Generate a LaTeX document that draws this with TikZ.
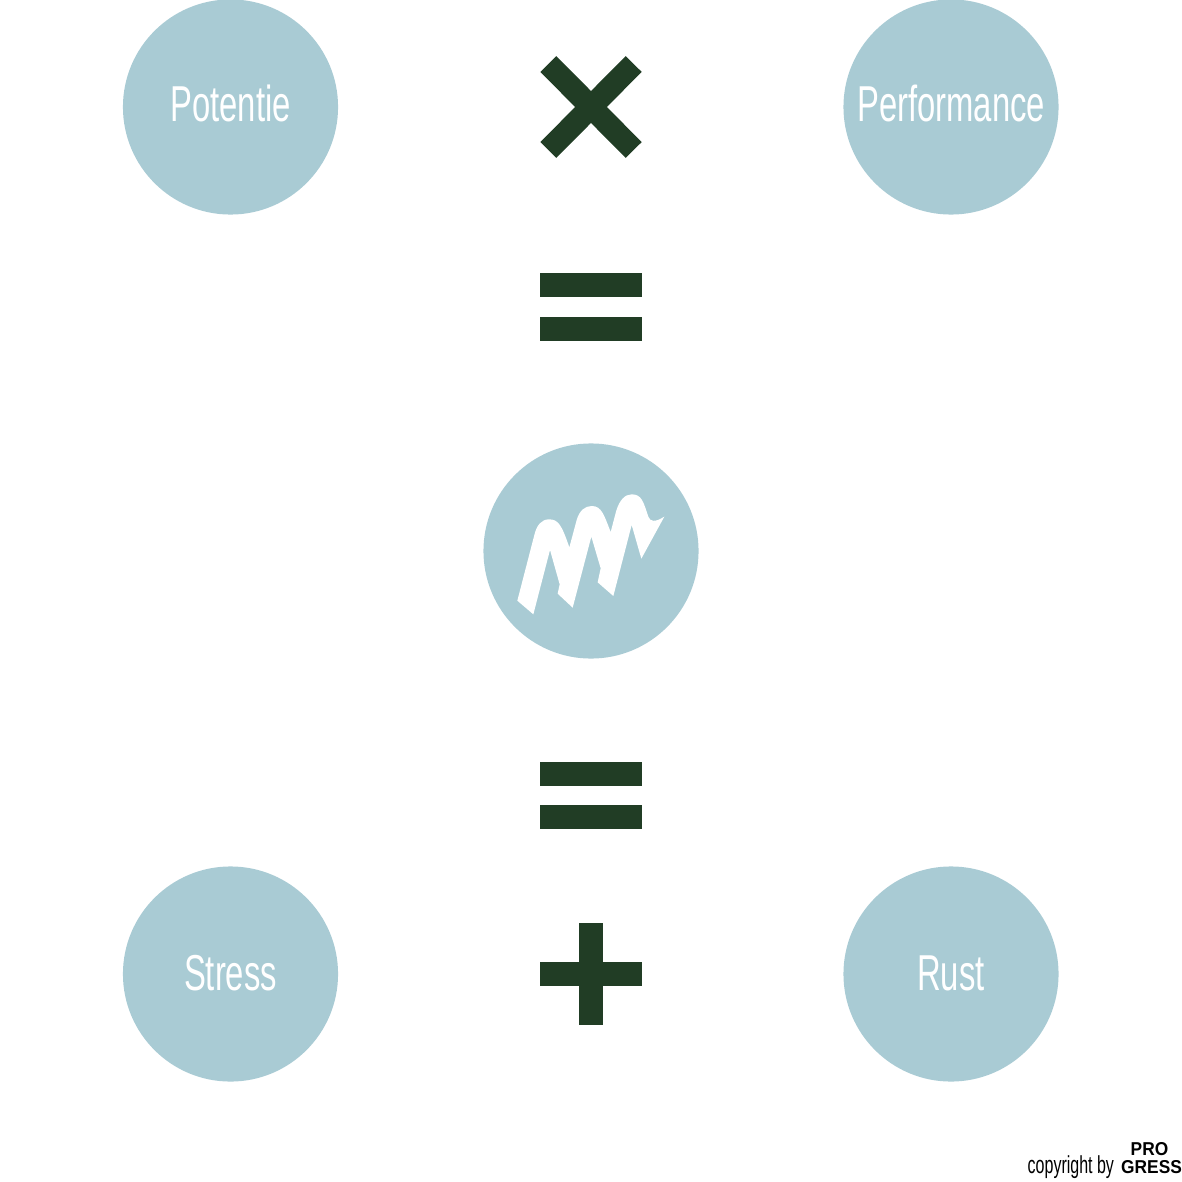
\documentclass[tikz,border=0pt]{standalone}
\usepackage{fontspec}
\setmainfont{Liberation Sans}
\newfontfamily\narrowfont[FakeStretch=0.65]{Liberation Sans}
\newfontfamily\logofont[FakeStretch=0.93]{Liberation Sans}
\usepackage{tikz}
\definecolor{ballblue}{HTML}{A9CBD4}
\definecolor{signgreen}{HTML}{213D25}
\tikzset{
  ball/.style={circle,fill=ballblue,inner sep=0pt,minimum size=2.15cm,text=white,font=\narrowfont\fontsize{14.35}{14.35}\selectfont},
  signbar/.style={fill=signgreen},
  logotext/.style={inner sep=0pt,anchor=base west,font=\logofont\bfseries\fontsize{5.3}{5.3}\selectfont}
}
\begin{document}
\begin{tikzpicture}[x=0.01cm,y=-0.01cm]
                      \useasboundingbox (0,0) rectangle (1182,1182);
                      \node[ball,text depth=0.08cm](potentie)at(230.5,107){Potentie};
                      \node[ball,text depth=0.08cm](performance)at(951,107){Performance};
                      \node[ball,text depth=0.02cm](stress)at(230.5,974){Stress};
                      \node[ball,text depth=0.02cm](rust)at(951,974){Rust};
                      \node[ball](logo)at(591,551){};
                      % times
                      \draw[signgreen,line width=6.4pt] (548.3,64) -- (633.7,150);
                      \draw[signgreen,line width=6.4pt] (633.7,64) -- (548.3,150);
                      % equals
                      \fill[signbar] (540,273) rectangle (642,297);
                      \fill[signbar] (540,317) rectangle (642,341);
                      \fill[signbar] (540,762) rectangle (642,786);
                      \fill[signbar] (540,805) rectangle (642,829);
                      % plus
                      \fill[signbar] (540,962) rectangle (642,986);
                      \fill[signbar] (579,923) rectangle (603,1025);
                      % logo in the middle ball
                      \begin{scope}[shift={(480,440)},x=0.01cm/3,y=-0.01cm/3]
                      \fill[white] (112,482) -- (163,285) .. controls (170,255) and (185,238) .. (207,238)
                        .. controls (235,238) and (245,255) .. (268,322) -- (290,240)
                        .. controls (298,212) and (315,198) .. (335,198)
                        .. controls (365,198) and (372,225) .. (392,276) -- (408,215)
                        .. controls (418,180) and (435,163) .. (455,163)
                        .. controls (485,163) and (490,185) .. (505,230)
                        .. controls (510,245) and (525,248) .. (553,230)
                        -- (484,356) -- (455,255) -- (400,468) -- (353,427) -- (362,385) -- (334,290)
                        -- (278,503) -- (233,461) -- (239,433) -- (210,330) -- (160,523) -- cycle;
                      \end{scope}
                      % copyright
                      \node[inner sep=0pt,anchor=base west,font=\narrowfont\fontsize{7}{7}\selectfont](copyright)at(1027,1173){copyright by};
                      \node[logotext](pro)at(1130,1155){PRO};
                      \node[logotext](gress)at(1120.5,1173){GRESS};
                  \end{tikzpicture}
\end{document}
